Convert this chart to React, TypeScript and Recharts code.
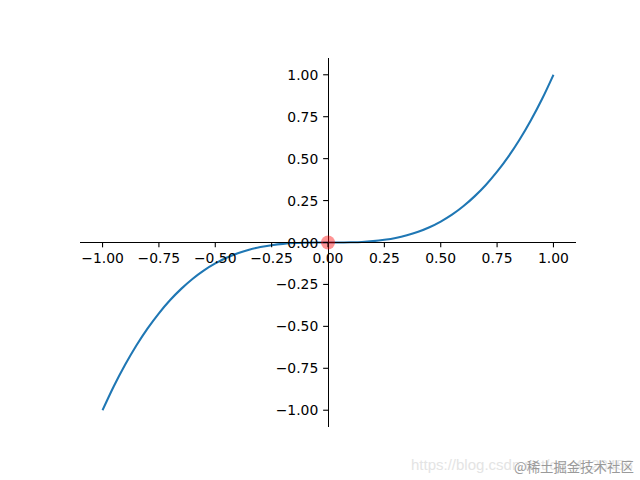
import React from "react";
import { ComposedChart, Line, Scatter, XAxis, YAxis, ReferenceLine } from "recharts";

const xValues = [
  -1, -0.95, -0.9, -0.85, -0.8, -0.75, -0.7, -0.65, -0.6, -0.55, -0.5, -0.45, -0.4, -0.35, -0.3, -0.25, -0.2,
  -0.15, -0.1, -0.05, 0, 0.05, 0.1, 0.15, 0.2, 0.25, 0.3, 0.35, 0.4, 0.45, 0.5, 0.55, 0.6, 0.65, 0.7, 0.75,
  0.8, 0.85, 0.9, 0.95, 1,
];
const yValues = [
  -1, -0.857, -0.729, -0.614, -0.512, -0.422, -0.343, -0.275, -0.216, -0.166, -0.125, -0.091, -0.064, -0.043,
  -0.027, -0.016, -0.008, -0.003, -0.001, 0, 0, 0, 0.001, 0.003, 0.008, 0.016, 0.027, 0.043, 0.064, 0.091,
  0.125, 0.166, 0.216, 0.275, 0.343, 0.422, 0.512, 0.614, 0.729, 0.857, 1,
];
const dotX = [0];
const dotY = [0];
const xTicks = [-1, -0.75, -0.5, -0.25, 0, 0.25, 0.5, 0.75, 1];
const yTicks = [-1, -0.75, -0.5, -0.25, 0, 0.25, 0.5, 0.75, 1];

const curveData = xValues.map((x, i) => ({ x, y: yValues[i] }));
const dotData = dotX.map((x, i) => ({ x, y: dotY[i] }));

const W = 640;
const H = 480;
const AX = 1;
const M = { top: 58, right: 64, bottom: 53 - AX, left: 80 - AX };
const PLOT_W = 496;
const PLOT_H = 369;
const ZERO_Y = M.top + PLOT_H / 2;
const ZERO_X = M.left + AX + PLOT_W / 2;
const TICK_LEN = 4.86;
const PAD = 4.86;
const FONT = "'DejaVu Sans', sans-serif";
const FS = 13.9;

const fmt = (v: number) => {
  const s = Math.abs(v).toFixed(2);
  return v < 0 ? "\u2212" + s : s;
};

const renderXTick = (props: any) => {
  const { x, payload } = props;
  return (
    <g key={"xt" + payload.value}>
      <line x1={x} x2={x} y1={ZERO_Y} y2={ZERO_Y + TICK_LEN} stroke="#000" strokeWidth={1.1} />
      <text x={x} y={ZERO_Y + TICK_LEN + PAD + 10.4} textAnchor="middle" fontFamily={FONT} fontSize={FS} fill="#000">
        {fmt(payload.value)}
      </text>
    </g>
  );
};

const renderYTick = (props: any) => {
  const { y, payload } = props;
  return (
    <g key={"yt" + payload.value}>
      <line x1={ZERO_X - TICK_LEN} x2={ZERO_X} y1={y} y2={y} stroke="#000" strokeWidth={1.1} />
      <text x={ZERO_X - TICK_LEN - PAD} y={y + 5} textAnchor="end" fontFamily={FONT} fontSize={FS} fill="#000">
        {fmt(payload.value)}
      </text>
    </g>
  );
};

const DotShape = (props: any) => {
  const { cx, cy } = props;
  return <circle cx={cx} cy={cy} r={7} fill="rgb(255,0,0)" fillOpacity={0.42} />;
};

export default function App() {
  return (
    <div style={{ position: "absolute", left: 0, top: 0, width: W, height: H, background: "#fff" }}>
      <ComposedChart width={W} height={H} data={curveData} margin={M}>
        <XAxis
          type="number"
          dataKey="x"
          domain={[-1.1, 1.1]}
          ticks={xTicks}
          axisLine={false}
          tickLine={false}
          height={AX}
          tick={renderXTick}
          interval={0}
          allowDataOverflow
        />
        <YAxis
          type="number"
          dataKey="y"
          domain={[-1.1, 1.1]}
          ticks={yTicks}
          axisLine={false}
          tickLine={false}
          width={AX}
          tick={renderYTick}
          interval={0}
          allowDataOverflow
        />
        <Line
          type="monotone"
          dataKey="y"
          stroke="#1f77b4"
          strokeWidth={2.08}
          dot={false}
          activeDot={false}
          isAnimationActive={false}
        />
        <Scatter data={dotData} dataKey="y" shape={<DotShape />} isAnimationActive={false} />
        <ReferenceLine y={0} stroke="#000" strokeWidth={1} shapeRendering="crispEdges" />
        <ReferenceLine x={0} stroke="#000" strokeWidth={1} shapeRendering="crispEdges" />
      </ComposedChart>
      <svg width={W} height={H} style={{ position: "absolute", left: 0, top: 0, pointerEvents: "none" }}>
        <text x={411} y={470} fontFamily="'Liberation Sans', sans-serif" fontSize={15} fill="#e4e4e4">
          https://blog.csdn.net/qq_4723458
        </text>
        <text x={514} y={472} fontFamily="'Noto Sans CJK SC', sans-serif" fontSize={13.4} fill="#9a9a9a">
          @稀土掘金技术社区
        </text>
      </svg>
    </div>
  );
}
